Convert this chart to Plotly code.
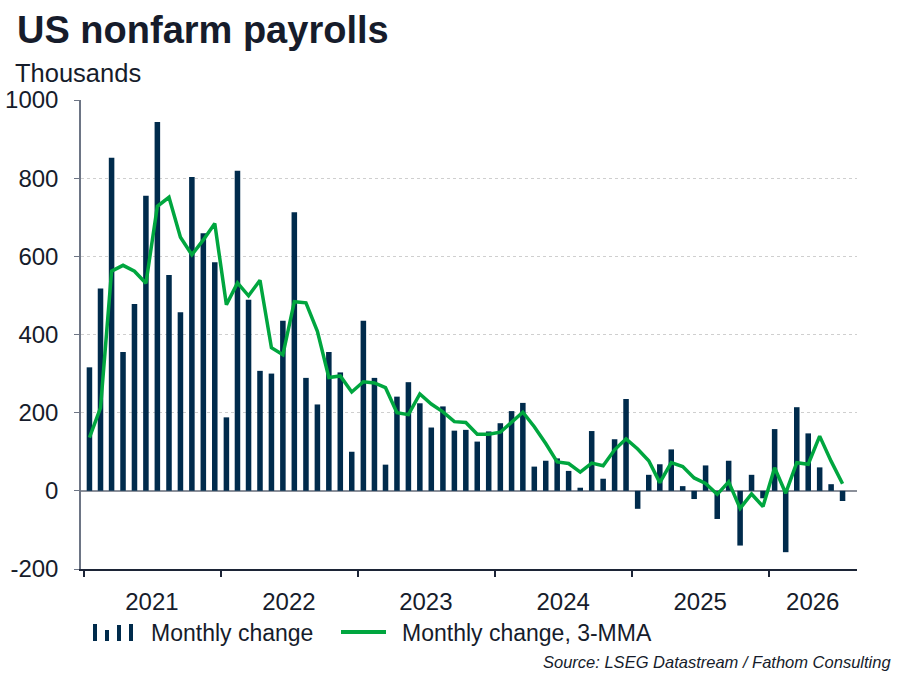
import pandas as pd
import plotly.graph_objects as go

# monthly payroll change (thousands), Jan 2021 - Jul 2026
months = pd.date_range("2021-01-01", periods=67, freq="MS").strftime("%Y-%m-%d").tolist()

monthly_change = [
    316, 518, 852, 355, 478, 755, 944, 552, 457, 803, 659, 585,
    188, 819, 489, 307, 300, 435, 713, 289, 221, 355, 303, 100,
    435, 289, 67, 241, 278, 224, 162, 216, 154, 156, 126, 152,
    173, 204, 225, 62, 77, 83, 51, 8, 153, 31, 132, 235,
    -46, 41, 68, 106, 12, -21, 65, -72, 77, -140, 41, -19,
    158, -157, 214, 147, 60, 17, -26,
]

monthly_change_3mma = [
    136, 212, 562, 577, 562, 531, 728, 751, 649, 604, 642, 684,
    476, 532, 499, 539, 366, 348, 484, 481, 408, 290, 294, 253,
    279, 276, 264, 200, 195, 248, 222, 202, 177, 175, 145, 145,
    150, 175, 201, 164, 121, 74, 70, 48, 71, 64, 105, 133,
    107, 77, 21, 72, 62, 33, 19, -9, 23, -45, -8, -40,
    59, -6, 72, 68, 140, 76, 18,
]

years = ["2021", "2022", "2023", "2024", "2025", "2026"]
y_ticks = [-200, 0, 200, 400, 600, 800, 1000]
y_tick_text = ["-200", "0", "200", "400", "600", "800", "1000"]

NAVY = "#002b4c"
GREEN = "#00a63f"
TEXT = "#161c2b"
FONT = "Liberation Sans, Arial, sans-serif"

x_start = pd.Timestamp("2020-12-25")
x_end = pd.Timestamp("2026-08-24")

# year labels sit in the middle of the visible part of each year
year_starts = [f"{y}-01-01" for y in years]
label_pos = []
for y in years:
    a = max(pd.Timestamp(f"{y}-01-01"), x_start)
    b = min(pd.Timestamp(f"{int(y) + 1}-01-01"), x_end)
    label_pos.append((a + (b - a) / 2).strftime("%Y-%m-%d"))

# plot area in pixels, used to place the hand drawn legend
L, R, T, B = 81, 857, 100, 569


def px(x):
    return (x - L) / (R - L)


def py(y):
    return (B - y) / (B - T)


fig = go.Figure()

fig.add_trace(go.Bar(x=months, y=monthly_change,
                     xperiod="M1", xperiodalignment="middle",
                     marker=dict(color=NAVY, line=dict(width=0)),
                     name="Monthly change"))

fig.add_trace(go.Scatter(x=months, y=monthly_change_3mma,
                         xperiod="M1", xperiodalignment="middle",
                         mode="lines", line=dict(color=GREEN, width=3.5),
                         name="Monthly change, 3-MMA"))

fig.update_layout(
    width=900, height=675,
    margin=dict(l=L, r=900 - R, t=T, b=675 - B),
    paper_bgcolor="white", plot_bgcolor="white",
    showlegend=False, bargap=0.5,
    font=dict(family=FONT, color=TEXT, size=24),
)

fig.update_xaxes(
    type="date", range=[x_start, x_end], automargin=False,
    tickmode="array", tickvals=label_pos, ticktext=years,
    ticks="", ticklabelstandoff=10,
    showline=True, linecolor="#1c2436", linewidth=1.5,
    showgrid=False, zeroline=False,
    minor=dict(tickmode="array", tickvals=year_starts, ticks="outside",
               ticklen=6, tickcolor="#1c2436", tickwidth=1.5, showgrid=False),
)

fig.update_yaxes(
    range=[-200, 1000], automargin=False,
    tickmode="array", tickvals=y_ticks, ticktext=y_tick_text,
    ticks="outside", ticklen=5, tickcolor="#6d7585", ticklabelstandoff=11,
    showline=True, linecolor="#6d7585", linewidth=1.5,
    showgrid=True, gridcolor="#cfcfcf", griddash="dot", gridwidth=1,
    zeroline=True, zerolinecolor="#8b909a", zerolinewidth=1.5,
)

# title, unit and source
fig.add_annotation(text="<b>US nonfarm payrolls</b>", xref="paper", yref="paper",
                   x=px(15), y=py(30), xanchor="left", yanchor="middle",
                   showarrow=False, font=dict(size=38, color=TEXT))
fig.add_annotation(text="Thousands", xref="paper", yref="paper",
                   x=px(13), y=py(73), xanchor="left", yanchor="middle",
                   showarrow=False, font=dict(size=25.5, color=TEXT))
fig.add_annotation(text="<i>Source: LSEG Datastream / Fathom Consulting</i>",
                   xref="paper", yref="paper",
                   x=px(893), y=py(662), xanchor="right", yanchor="middle",
                   showarrow=False, font=dict(size=16.5, color=TEXT))

# legend drawn by hand to match the bar glyph of the original
legend_bars = [(93, 624), (105, 630), (117, 625), (129, 624)]
for x0, y0 in legend_bars:
    fig.add_shape(type="rect", xref="paper", yref="paper",
                  x0=px(x0), x1=px(x0 + 4), y0=py(y0), y1=py(641),
                  fillcolor=NAVY, line=dict(width=0))
fig.add_shape(type="line", xref="paper", yref="paper",
              x0=px(341), x1=px(386), y0=py(632), y1=py(632),
              line=dict(color=GREEN, width=4))
fig.add_annotation(text="Monthly change", xref="paper", yref="paper",
                   x=px(149), y=py(633), xanchor="left", yanchor="middle",
                   showarrow=False, font=dict(size=23, color=TEXT))
fig.add_annotation(text="Monthly change, 3-MMA", xref="paper", yref="paper",
                   x=px(400), y=py(633), xanchor="left", yanchor="middle",
                   showarrow=False, font=dict(size=23, color=TEXT))

# drop the default page margin so the 900x675 figure fills the window exactly
fig.write_html("out.html", config={"displayModeBar": False},
               post_script="document.body.style.margin = '0';")
